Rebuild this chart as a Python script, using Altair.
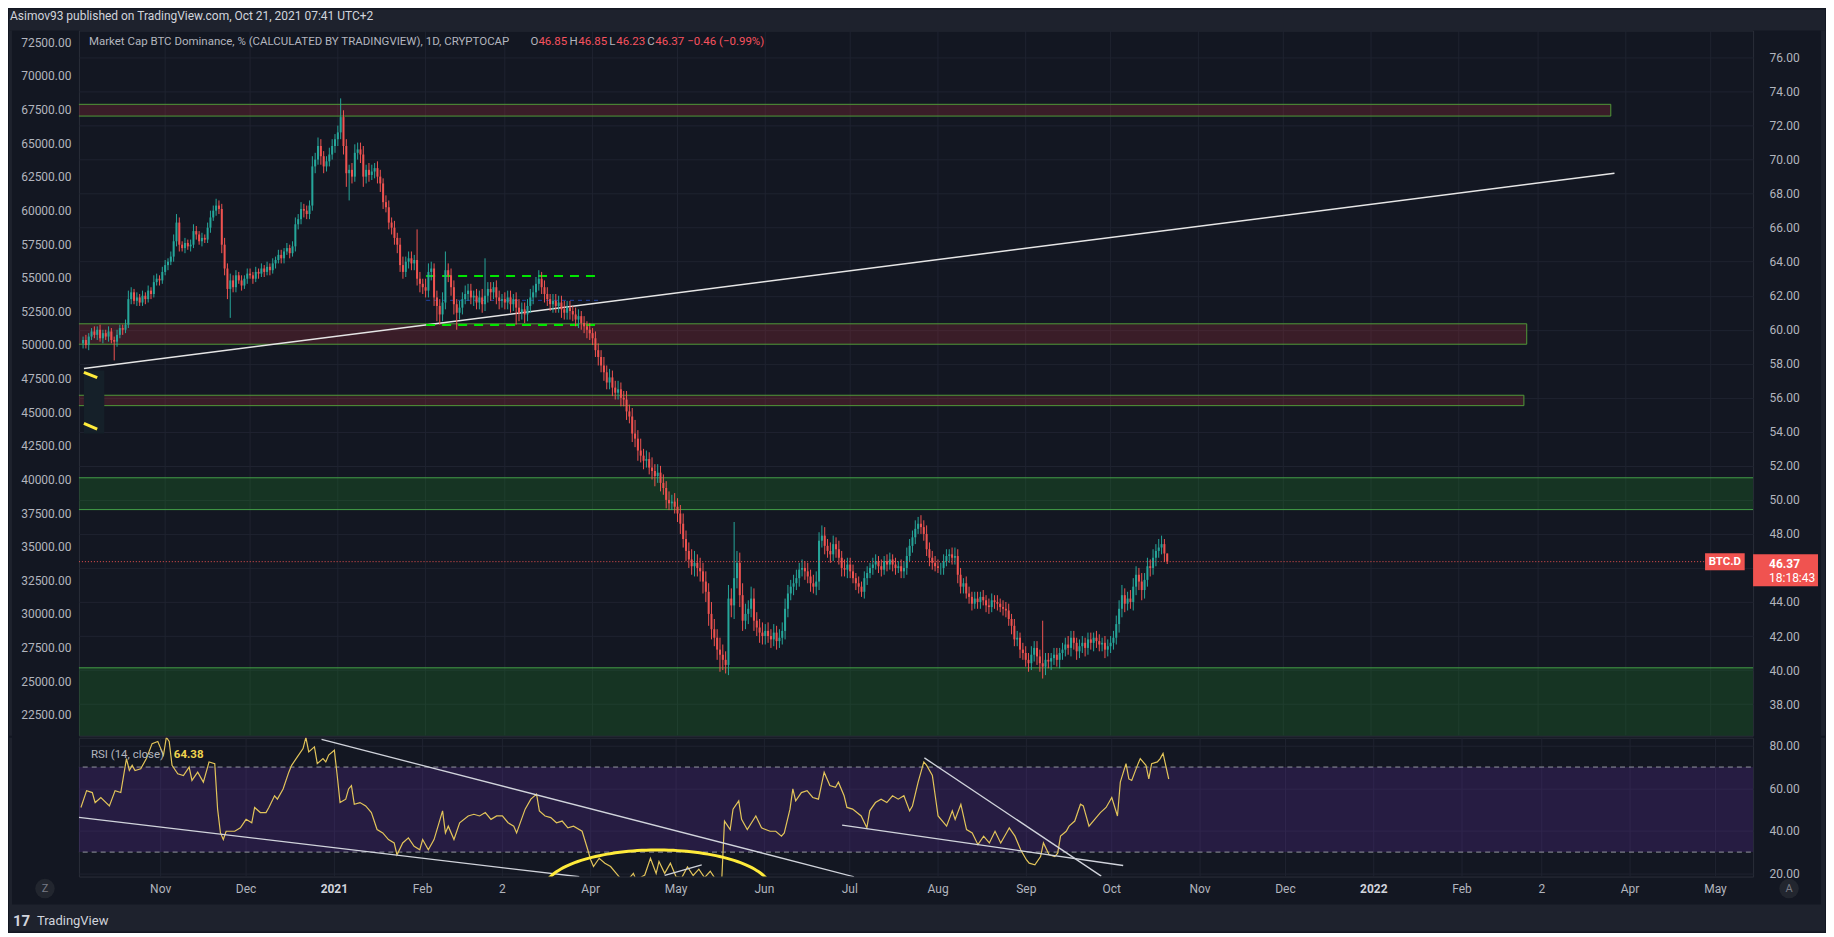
import altair as alt
import numpy as np
import pandas as pd

# ---------------- daily BTC.D candles ----------------
START = "2020-10-03"
FIRST_OPEN = 59.2

close_2020_10 = [59.4, 59.1, 59.6, 59.9, 59.7, 60.0, 59.5, 59.8, 59.6, 59.9, 59.4, 59.3, 59.7, 60.1, 60.0, 60.3, 61.8, 62.2, 61.7, 61.9, 61.6, 62.0, 61.8, 62.3, 62.1, 62.8, 63.0, 62.9, 63.4]
close_2020_11 = [63.8, 64.0, 64.3, 65.2, 66.3, 65.0, 64.8, 65.1, 64.9, 65.0, 65.8, 65.6, 65.2, 65.4, 65.3, 66.0, 66.6, 67.0, 67.3, 67.1, 65.0, 63.6, 62.4, 62.9, 62.5, 63.2, 62.9, 62.6, 63.0, 63.3]
close_2020_12 = [63.2, 63.0, 63.4, 63.3, 63.6, 63.4, 63.7, 63.5, 63.9, 64.1, 64.4, 64.2, 64.6, 64.8, 64.5, 64.9, 66.2, 66.5, 67.1, 67.0, 66.8, 67.3, 69.6, 70.0, 70.8, 70.2, 69.6, 69.9, 70.3, 70.8, 71.2]
close_2021_01 = [71.6, 72.5, 70.8, 69.2, 69.4, 69.0, 70.4, 70.6, 70.3, 69.0, 69.4, 69.1, 69.3, 69.5, 69.0, 68.6, 67.5, 67.2, 66.3, 66.0, 65.4, 65.0, 63.8, 63.4, 64.0, 64.2, 63.9, 64.1, 63.0, 62.7, 62.5]
close_2021_02 = [62.3, 63.4, 63.6, 61.9, 61.4, 60.9, 61.6, 63.5, 63.2, 62.5, 61.5, 61.0, 61.3, 61.8, 62.1, 62.3, 61.9, 62.0, 61.6, 61.9, 61.5, 62.0, 62.4, 62.2, 62.5, 61.9, 61.7, 61.8]
close_2021_03 = [61.6, 61.9, 61.5, 61.8, 61.3, 61.0, 61.2, 60.9, 61.4, 61.9, 62.2, 62.7, 63.0, 62.5, 62.1, 61.8, 61.5, 61.7, 61.4, 61.6, 61.2, 61.0, 61.3, 61.1, 60.9, 60.6, 60.8, 60.4, 60.2, 60.0, 59.8]
close_2021_04 = [59.5, 58.8, 58.4, 57.9, 57.5, 56.9, 57.2, 56.6, 56.3, 56.5, 56.0, 55.9, 55.2, 54.9, 53.9, 53.6, 52.9, 52.6, 52.3, 52.4, 51.9, 51.7, 51.4, 51.6, 51.0, 50.7, 50.0, 49.8, 49.9, 49.6]
close_2021_05 = [49.2, 48.6, 47.7, 47.0, 46.5, 46.1, 46.3, 46.0, 45.8, 45.2, 44.6, 43.3, 42.4, 41.9, 41.2, 40.9, 40.6, 40.3, 44.2, 43.8, 45.4, 46.3, 44.4, 42.9, 43.3, 43.6, 44.2, 42.9, 42.5, 42.2, 42.0]
close_2021_06 = [42.3, 42.0, 41.8, 42.2, 41.7, 41.9, 42.3, 43.6, 44.5, 44.9, 45.1, 45.4, 45.9, 46.0, 45.8, 45.5, 45.1, 44.9, 45.2, 47.6, 47.9, 47.3, 47.0, 46.8, 47.4, 47.1, 46.6, 46.0, 45.9, 46.2]
close_2021_07 = [45.8, 45.4, 45.1, 44.9, 44.6, 45.4, 45.7, 46.0, 46.2, 46.4, 46.1, 45.9, 46.4, 46.2, 46.5, 46.2, 46.0, 46.1, 45.8, 46.0, 46.7, 47.3, 47.8, 48.3, 48.6, 48.4, 48.0, 47.1, 46.6, 46.3, 46.1]
close_2021_08 = [46.0, 46.0, 46.4, 46.7, 46.8, 46.6, 46.7, 45.6, 44.9, 45.1, 44.5, 44.3, 43.9, 44.2, 44.0, 44.3, 44.1, 43.8, 43.7, 44.1, 44.0, 43.9, 43.7, 43.6, 43.5, 43.0, 42.6, 41.8, 41.9, 41.2, 41.0]
close_2021_09 = [40.6, 40.4, 40.9, 41.3, 40.8, 40.4, 40.2, 40.6, 40.5, 40.7, 40.9, 40.6, 41.0, 41.2, 41.5, 41.3, 41.9, 41.6, 41.1, 41.4, 41.6, 41.3, 41.8, 41.6, 41.9, 41.7, 41.5, 41.6, 41.2, 41.4]
close_2021_10 = [41.6, 41.9, 42.7, 43.6, 44.4, 43.9, 44.2, 44.0, 44.9, 45.6, 45.2, 44.7, 45.3, 46.1, 46.0, 46.6, 47.0, 47.2, 47.4, 46.85, 46.37]

# upper / lower wick length beyond the body, in tenths of a point
up_2020_10 = [2, 3, 2, 2, 3, 2, 3, 2, 2, 3, 2, 2, 3, 2, 2, 3, 5, 3, 2, 3, 2, 3, 2, 3, 2, 4, 3, 2, 3]
dn_2020_10 = [3, 2, 3, 2, 2, 3, 2, 3, 2, 3, 2, 11, 3, 2, 3, 2, 2, 3, 2, 3, 2, 2, 3, 2, 3, 2, 2, 3, 2]
up_2020_11 = [3, 2, 3, 4, 5, 3, 2, 3, 2, 3, 4, 3, 2, 3, 2, 3, 4, 3, 4, 3, 3, 4, 3, 4, 3, 3, 2, 3, 2, 3]
dn_2020_11 = [2, 3, 2, 3, 3, 4, 2, 3, 2, 3, 2, 3, 2, 3, 2, 2, 3, 2, 3, 3, 5, 4, 6, 17, 3, 3, 2, 3, 2, 3]
up_2020_12 = [3, 2, 3, 2, 3, 2, 3, 2, 3, 2, 3, 3, 2, 3, 2, 3, 4, 3, 4, 3, 3, 3, 6, 4, 5, 4, 3, 3, 4, 4, 3]
dn_2020_12 = [2, 3, 2, 3, 2, 3, 2, 3, 2, 3, 2, 3, 3, 2, 3, 2, 3, 3, 3, 4, 3, 3, 3, 4, 3, 5, 4, 3, 3, 3, 4]
up_2021_01 = [4, 11, 4, 4, 3, 4, 5, 4, 4, 5, 3, 4, 4, 3, 4, 4, 3, 4, 4, 3, 4, 3, 4, 5, 3, 4, 4, 3, 18, 4, 3]
dn_2021_01 = [4, 4, 5, 8, 16, 4, 3, 4, 5, 6, 4, 4, 3, 4, 4, 5, 4, 3, 4, 4, 4, 5, 4, 4, 3, 4, 4, 4, 4, 5, 4]
up_2021_02 = [5, 5, 4, 3, 4, 4, 6, 11, 4, 4, 4, 3, 4, 4, 5, 4, 4, 3, 4, 4, 5, 22, 4, 4, 3, 4, 4, 3]
dn_2021_02 = [4, 4, 5, 5, 9, 6, 4, 4, 4, 5, 6, 10, 4, 4, 3, 4, 4, 5, 4, 4, 5, 4, 4, 5, 4, 4, 5, 4]
up_2021_03 = [4, 4, 4, 3, 4, 5, 4, 4, 4, 5, 4, 4, 5, 4, 4, 4, 3, 4, 4, 4, 4, 5, 4, 4, 3, 4, 4, 3, 4, 3, 4]
dn_2021_03 = [4, 4, 5, 4, 10, 5, 4, 5, 4, 4, 4, 3, 4, 4, 5, 4, 4, 5, 4, 4, 5, 4, 4, 5, 4, 4, 5, 4, 4, 5, 4]
up_2021_04 = [3, 4, 4, 4, 5, 4, 5, 4, 4, 5, 4, 4, 5, 4, 5, 8, 5, 7, 4, 5, 4, 6, 4, 5, 4, 5, 4, 5, 4, 5]
dn_2021_04 = [4, 4, 5, 4, 5, 4, 4, 5, 4, 4, 5, 4, 5, 4, 5, 5, 6, 4, 5, 4, 4, 5, 6, 4, 5, 4, 5, 4, 4, 4]
up_2021_05 = [5, 5, 6, 5, 5, 6, 7, 5, 6, 5, 6, 5, 7, 6, 5, 7, 6, 5, 8, 6, 33, 7, 6, 7, 6, 5, 7, 6, 5, 5, 6]
dn_2021_05 = [5, 6, 5, 6, 5, 5, 6, 5, 6, 7, 6, 7, 6, 5, 6, 10, 6, 5, 6, 7, 8, 6, 7, 6, 5, 6, 5, 6, 5, 6, 5]
up_2021_06 = [4, 5, 4, 5, 4, 5, 5, 6, 5, 4, 5, 5, 4, 5, 4, 5, 4, 5, 6, 5, 6, 5, 4, 5, 5, 4, 5, 4, 5, 4]
dn_2021_06 = [5, 4, 5, 4, 5, 4, 4, 5, 5, 4, 5, 4, 5, 4, 5, 4, 5, 4, 5, 5, 4, 5, 4, 5, 4, 5, 4, 5, 4, 5]
up_2021_07 = [4, 4, 3, 4, 3, 4, 4, 3, 4, 4, 3, 4, 3, 4, 4, 3, 4, 3, 4, 4, 5, 4, 4, 5, 4, 5, 4, 5, 4, 4, 4]
dn_2021_07 = [4, 3, 4, 4, 3, 4, 4, 3, 4, 3, 4, 4, 3, 4, 3, 4, 4, 3, 4, 4, 4, 3, 4, 4, 3, 4, 4, 4, 5, 4, 3]
up_2021_08 = [4, 3, 4, 4, 3, 4, 5, 4, 4, 3, 4, 4, 3, 4, 4, 3, 4, 3, 4, 4, 3, 4, 3, 4, 4, 4, 3, 4, 4, 3, 4]
dn_2021_08 = [3, 4, 4, 3, 4, 4, 4, 5, 4, 4, 3, 4, 4, 3, 4, 4, 3, 4, 4, 3, 4, 4, 3, 4, 4, 4, 5, 4, 4, 5, 4]
up_2021_09 = [4, 4, 5, 4, 4, 4, 25, 4, 4, 3, 4, 4, 3, 4, 4, 5, 4, 4, 3, 4, 4, 3, 4, 4, 3, 4, 4, 3, 4, 4]
dn_2021_09 = [4, 5, 4, 4, 5, 5, 7, 5, 4, 5, 4, 4, 5, 4, 4, 4, 5, 4, 5, 4, 4, 5, 4, 4, 5, 4, 4, 4, 5, 4]
up_2021_10 = [4, 4, 5, 5, 6, 4, 4, 5, 5, 5, 4, 5, 4, 5, 4, 5, 4, 5, 5, 3, 0]
dn_2021_10 = [4, 4, 4, 5, 5, 5, 4, 4, 5, 5, 5, 6, 5, 4, 5, 4, 5, 4, 4, 5, 1.4]

# RSI(14, close): (days from 2020-11-01, value)
rsi_points = [(-28, 51.0), (-26, 58.9), (-24, 58.0), (-23, 53.3), (-21, 55.7), (-18, 51.7), (-16, 58.9), (-14, 58.0), (-12, 74.0), (-11, 68.4), (-10, 70.8), (-9, 68.4), (-7, 69.2), (-5, 74.0), (-3, 81.0), (-1, 82.0), (1, 75.6), (2, 84.0), (3, 82.0), (4, 70.8), (6, 66.8), (8, 66.0), (10, 70.0), (11, 63.7), (13, 67.6), (15, 62.9), (17, 72.4), (19, 71.6), (20, 50.2), (21, 39.0), (22, 35.9), (23, 39.8), (26, 39.8), (28, 41.4), (30, 45.4), (32, 43.8), (33, 51.0), (35, 48.6), (37, 48.6), (38, 51.0), (40, 56.5), (41, 54.9), (43, 59.7), (45, 67.6), (46, 70.8), (48, 74.8), (50, 78.7), (51, 84.0), (52, 77.1), (54, 79.5), (55, 71.6), (57, 74.0), (58, 72.4), (59, 75.6), (61, 77.9), (62, 66.0), (63, 53.3), (65, 54.9), (66, 59.7), (67, 61.3), (68, 52.5), (70, 53.3), (72, 51.7), (74, 48.6), (76, 40.6), (78, 39.0), (80, 35.9), (82, 34.3), (83, 28.7), (85, 34.3), (87, 36.7), (89, 32.7), (91, 31.1), (92, 35.9), (94, 31.1), (96, 35.9), (99, 49.4), (100, 39.0), (101, 42.2), (103, 35.9), (105, 43.8), (108, 47.0), (110, 47.8), (112, 47.0), (114, 48.6), (116, 45.4), (118, 47.0), (120, 47.0), (122, 43.8), (124, 42.2), (125, 39.0), (128, 50.2), (130, 54.9), (132, 57.3), (133, 49.4), (135, 47.0), (137, 46.2), (139, 43.8), (141, 44.6), (143, 41.4), (145, 42.2), (148, 39.8), (150, 31.1), (151, 26.4), (152, 23.2), (154, 27.1), (156, 24.8), (158, 23.2), (160, 20.0), (162, 16.8), (164, 16.8), (166, 20.0), (167, 16.8), (170, 19.2), (172, 27.1), (174, 20.0), (175, 25.6), (177, 20.0), (179, 24.8), (181, 18.4), (183, 18.0), (185, 23.0), (187, 19.0), (189, 22.0), (191, 18.0), (193, 21.0), (195, 17.0), (197, 16.0), (198, 44.6), (200, 40.6), (201, 50.2), (203, 54.1), (204, 45.4), (206, 40.6), (209, 47.0), (211, 41.4), (214, 39.8), (216, 39.8), (218, 37.5), (219, 39.0), (221, 50.2), (222, 59.7), (223, 54.1), (225, 58.0), (227, 58.9), (229, 55.7), (231, 54.9), (232, 61.3), (233, 67.6), (235, 61.3), (237, 60.5), (238, 62.9), (240, 56.5), (241, 51.0), (243, 50.2), (246, 47.0), (248, 41.4), (249, 49.4), (251, 53.3), (253, 54.9), (255, 53.3), (257, 56.5), (259, 54.9), (261, 56.5), (263, 49.4), (264, 51.7), (266, 62.9), (268, 72.4), (269, 70.8), (271, 66.0), (272, 56.5), (273, 47.0), (276, 42.2), (278, 49.4), (279, 45.4), (281, 52.5), (283, 40.6), (285, 39.0), (287, 33.5), (289, 37.5), (291, 34.3), (293, 39.8), (295, 34.3), (297, 39.0), (298, 41.4), (300, 37.5), (302, 31.1), (304, 26.4), (305, 24.8), (307, 24.0), (309, 27.9), (310, 34.3), (312, 28.7), (314, 27.9), (315, 29.5), (316, 37.5), (318, 39.8), (319, 42.2), (321, 44.6), (323, 52.5), (324, 51.7), (326, 42.2), (328, 45.4), (330, 48.6), (332, 51.0), (334, 55.7), (336, 47.0), (337, 62.9), (339, 71.6), (340, 64.4), (341, 63.7), (343, 70.8), (344, 74.0), (346, 70.8), (347, 64.4), (348, 71.6), (350, 72.4), (351, 74.0), (352, 76.4), (354, 64.38)]

# drawn zones (days from 2020-11-01, BTC.D values)
zone_top = [73.25, 60.35, 56.15, 51.30, 40.13]
zone_bottom = [72.56, 59.15, 55.54, 49.43, 30.0]
zone_from = [-40, -40, -40, -40, -40]
zone_to = [510.7, 481.0, 480.0, 600.0, 600.0]
zone_fill = ["#d63540", "#d63540", "#d63540", "#22a827", "#22a827"]
zone_stroke = ["#4f9a38", "#4f9a38", "#4f9a38", "#43a047", "#43a047"]

# drawn lines: (day1, value1, day2, value2)
main_trend = [(-28.7, 57.72, 512.0, 69.2)]
green_dashed = [(92.2, 63.16, 153.2, 63.16), (92.2, 60.28, 153.2, 60.28)]
blue_dashed = [(92.2, 61.73, 153.2, 61.73)]
yellow_marks = [(-28.7, 57.50, -24.0, 57.18), (-28.7, 54.50, -24.0, 54.16)]
rsi_trends = [(56.5, 83.0, 243.5, 18.4), (-28.7, 46.3, 147.0, 18.4), (177.0, 19.0, 190.0, 24.0),
              (239.3, 42.7, 338.0, 23.7), (268.2, 74.3, 330.3, 18.7)]
ellipse_center = (174.5, 12.0)
ellipse_radii = (40.0, 19.0)

LAST_PRICE = 46.37

month_ticks = ["2020-11-01", "2020-12-01", "2021-01-01", "2021-02-01", "2021-03-01", "2021-04-01",
               "2021-05-01", "2021-06-01", "2021-07-01", "2021-08-01", "2021-09-01", "2021-10-01",
               "2021-11-01", "2021-12-01", "2022-01-01", "2022-02-01", "2022-03-01", "2022-04-01", "2022-05-01"]
month_labels = ["Nov", "Dec", "2021", "Feb", "2", "Apr", "May", "Jun", "Jul", "Aug", "Sep", "Oct",
                "Nov", "Dec", "2022", "Feb", "2", "Apr", "May"]
left_ticks = [22500, 25000, 27500, 30000, 32500, 35000, 37500, 40000, 42500, 45000, 47500, 50000,
              52500, 55000, 57500, 60000, 62500, 65000, 67500, 70000, 72500]
right_ticks = [38, 40, 42, 44, 46, 48, 50, 52, 54, 56, 58, 60, 62, 64, 66, 68, 70, 72, 74, 76]
rsi_ticks = [20, 40, 60, 80]

# ---------------- build tables ----------------
BASE = pd.Timestamp("2020-11-01", tz="UTC")


def ms(day):
    return int((BASE + pd.Timedelta(days=float(day))).value // 10**6)


closes = (close_2020_10 + close_2020_11 + close_2020_12 + close_2021_01 + close_2021_02 + close_2021_03 +
          close_2021_04 + close_2021_05 + close_2021_06 + close_2021_07 + close_2021_08 + close_2021_09 + close_2021_10)
ups = (up_2020_10 + up_2020_11 + up_2020_12 + up_2021_01 + up_2021_02 + up_2021_03 + up_2021_04 +
       up_2021_05 + up_2021_06 + up_2021_07 + up_2021_08 + up_2021_09 + up_2021_10)
downs = (dn_2020_10 + dn_2020_11 + dn_2020_12 + dn_2021_01 + dn_2021_02 + dn_2021_03 + dn_2021_04 +
         dn_2021_05 + dn_2021_06 + dn_2021_07 + dn_2021_08 + dn_2021_09 + dn_2021_10)
opens = [FIRST_OPEN] + closes[:-1]
dates = pd.date_range(START, periods=len(closes), freq="D", tz="UTC")
candles = pd.DataFrame({
    "t": dates.asi8 // 10**6,
    "open": opens,
    "close": closes,
    "high": [max(o, c) + u / 10 for o, c, u in zip(opens, closes, ups)],
    "low": [min(o, c) - d / 10 for o, c, d in zip(opens, closes, downs)],
    "dir": ["up" if c >= o else "down" for o, c in zip(opens, closes)],
})

rsi_df = pd.DataFrame({"t": [ms(d) for d, _ in rsi_points], "v": [v for _, v in rsi_points]})


def seg_df(segs):
    return pd.DataFrame({"t1": [ms(s[0]) for s in segs], "v1": [s[1] for s in segs],
                         "t2": [ms(s[2]) for s in segs], "v2": [s[3] for s in segs]})


ang = np.linspace(0, np.pi, 80)
ell_df = pd.DataFrame({"t": [ms(ellipse_center[0] + ellipse_radii[0] * np.cos(a)) for a in ang],
                       "v": ellipse_center[1] + ellipse_radii[1] * np.sin(ang),
                       "i": np.arange(len(ang))})

zones = pd.DataFrame({"t1": [ms(d) for d in zone_from], "t2": [ms(d) for d in zone_to],
                      "top": zone_top, "bot": zone_bottom, "fill": zone_fill, "stroke": zone_stroke})

month_ms = [int(pd.Timestamp(d, tz="UTC").value // 10**6) for d in month_ticks]
months_df = pd.DataFrame({"t": month_ms, "lab": month_labels,
                          "year": [len(l) == 4 for l in month_labels]})

# ---------------- styling ----------------
W, HM, HR = 1676, 706, 139
BG = "#131722"
OUTER = "#1e222d"
GRID = "#1f2330"
BORDER = "#2a2e39"
UP = "#26a69a"
DOWN = "#ef5350"
TXT = "#b2b5be"
RSI_COL = "#e2c45a"
FONT = "Roboto"

xs = alt.Scale(type="utc", domain=[ms(-28.7), ms(559.2)], nice=False)
yD = alt.Scale(domain=[36.14, 77.59], nice=False, zero=False)
yL = alt.Scale(domain=[20939, 73385], nice=False, zero=False)
yR = alt.Scale(domain=[18.5, 83.8], nice=False, zero=False)
one = pd.DataFrame({"k": [0]})
dir_color = alt.Color("dir:N", scale=alt.Scale(domain=["up", "down"], range=[UP, DOWN]), legend=None)


def px_rect(x1, x2, y1, y2, color):
    return alt.Chart(one).mark_rect(color=color).encode(
        x=alt.value(x1), x2=alt.value(x2), y=alt.value(y1), y2=alt.value(y2))


def px_text(s, x, y, color, size=12, weight="normal", align="left"):
    return alt.Chart(pd.DataFrame({"s": [s]})).mark_text(
        align=align, baseline="middle", color=color, fontSize=size, fontWeight=weight, font=FONT
    ).encode(text="s:N", x=alt.value(x), y=alt.value(y))


def seg_layer(segs, yscale, color, width, dash=None, opacity=1.0):
    kw = dict(color=color, strokeWidth=width, clip=True, opacity=opacity)
    if dash:
        kw["strokeDash"] = dash
    return alt.Chart(seg_df(segs)).mark_rule(**kw).encode(
        x=alt.X("t1:T", scale=xs, axis=None), x2="t2:T",
        y=alt.Y("v1:Q", scale=yD if yscale == "D" else yR, axis=None), y2="v2:Q")


def value_text(s, v, weight):
    return alt.Chart(pd.DataFrame({"v": [v], "s": [s]})).mark_text(
        color="white", fontSize=12, font=FONT, align="left", baseline="middle", fontWeight=weight).encode(
        x=alt.value(W + 16), y=alt.Y("v:Q", scale=yD, axis=None), text="s:N")


def month_grid(h):
    return alt.Chart(months_df).mark_rule(color=GRID, strokeWidth=1).encode(
        x=alt.X("t:T", scale=xs, axis=None), y=alt.value(0), y2=alt.value(h))


# ---------------- main price pane ----------------
zone_layer = alt.Chart(zones).mark_rect(clip=True, strokeWidth=1, fillOpacity=0.2).encode(
    x=alt.X("t1:T", scale=xs, axis=None), x2="t2:T",
    y=alt.Y("top:Q", scale=yD, axis=None), y2="bot:Q",
    fill=alt.Fill("fill:N", scale=None), stroke=alt.Stroke("stroke:N", scale=None))

faint_box = alt.Chart(pd.DataFrame({"t1": [ms(-28.7)], "t2": [ms(-21.5)], "a": [57.6], "b": [53.9]})).mark_rect(
    color="#152029", clip=True).encode(
    x=alt.X("t1:T", scale=xs, axis=None), x2="t2:T", y=alt.Y("a:Q", scale=yD, axis=None), y2="b:Q")

wicks = alt.Chart(candles).mark_rule(strokeWidth=1).encode(
    x=alt.X("t:T", scale=xs, axis=None),
    y=alt.Y("low:Q", scale=yD, axis=alt.Axis(orient="right", values=right_ticks,
                                             labelExpr="datum.value == 46 ? '' : format(datum.value, '.2f')",
                                             grid=True, gridColor=GRID, ticks=False, tickSize=0, domain=False,
                                             labelPadding=16, title=None, labelFlush=False, labelOverlap=False)),
    y2="high:Q", color=dir_color)

bodies = alt.Chart(candles).mark_bar(width=2).encode(
    x=alt.X("t:T", scale=xs, axis=None),
    y=alt.Y("open:Q", scale=yD, axis=None), y2="close:Q", color=dir_color)

left_axis = alt.Chart(pd.DataFrame({"L": left_ticks})).mark_point(opacity=0).encode(
    y=alt.Y("L:Q", scale=yL, axis=alt.Axis(orient="left", values=left_ticks, format=".2f", grid=False, ticks=False,
                                           tickSize=0, domain=False, labelPadding=8, title=None, labelFlush=False,
                                           labelOverlap=False)))

price_line = alt.Chart(pd.DataFrame({"t1": [ms(-40)], "t2": [ms(544)], "v": [LAST_PRICE]})).mark_rule(
    color=DOWN, strokeDash=[1, 2], strokeWidth=1, clip=True).encode(
    x=alt.X("t1:T", scale=xs, axis=None), x2="t2:T", y=alt.Y("v:Q", scale=yD, axis=None))

sym_box = alt.Chart(pd.DataFrame({"t1": [ms(544)], "t2": [ms(558)], "a": [LAST_PRICE + 0.5],
                                  "b": [LAST_PRICE - 0.5]})).mark_rect(color="#f05350").encode(
    x=alt.X("t1:T", scale=xs, axis=None), x2="t2:T", y=alt.Y("a:Q", scale=yD, axis=None), y2="b:Q")
sym_text = alt.Chart(pd.DataFrame({"t": [ms(551)], "v": [LAST_PRICE], "s": ["BTC.D"]})).mark_text(
    color="white", fontSize=11.5, fontWeight="bold", font=FONT, baseline="middle").encode(
    x=alt.X("t:T", scale=xs, axis=None), y=alt.Y("v:Q", scale=yD, axis=None), text="s:N")

axis_box = alt.Chart(pd.DataFrame({"a": [LAST_PRICE + 0.44], "b": [LAST_PRICE - 1.44]})).mark_rect(
    color="#f05350").encode(x=alt.value(W), x2=alt.value(W + 65),
                            y=alt.Y("a:Q", scale=yD, axis=None), y2="b:Q")

RED_T = "#f7525f"
main = alt.layer(
    px_rect(-70, W + 72, -21, 0, OUTER),
    px_rect(-70, -67, 0, HM, OUTER),
    px_rect(W + 68, W + 72, 0, HM, OUTER),
    month_grid(HM),
    zone_layer,
    faint_box,
    seg_layer(main_trend, "D", "#e6e6e6", 1.5),
    seg_layer(blue_dashed, "D", "#2962ff", 1, dash=[4, 4], opacity=0.6),
    seg_layer(green_dashed, "D", "#00e600", 2, dash=[9, 7]),
    seg_layer(yellow_marks, "D", "#ffeb3b", 3),
    wicks,
    bodies,
    price_line,
    sym_box, sym_text,
    axis_box,
    value_text("46.37", LAST_PRICE - 0.12, "bold"),
    value_text("18:18:43", LAST_PRICE - 0.95, "normal"),
    left_axis,
    px_text("Asimov93 published on TradingView.com, Oct 21, 2021 07:41 UTC+2", -69, -14, "#d1d4dc", 12),
    px_text("Market Cap BTC Dominance, % (CALCULATED BY TRADINGVIEW), 1D, CRYPTOCAP", 10, 12, TXT, 11.5),
    px_text("O", 452, 12, TXT, 11.5), px_text("46.85", 460, 12, RED_T, 11.5),
    px_text("H", 491, 12, TXT, 11.5), px_text("46.85", 500, 12, RED_T, 11.5),
    px_text("L", 531, 12, TXT, 11.5), px_text("46.23", 538, 12, RED_T, 11.5),
    px_text("C", 569, 12, TXT, 11.5), px_text("46.37", 577, 12, RED_T, 11.5),
    px_text("\u22120.46 (\u22120.99%)", 609, 12, RED_T, 11.5),
).resolve_scale(y="independent").properties(width=W, height=HM)

# ---------------- RSI pane ----------------
band = alt.Chart(pd.DataFrame({"t1": [ms(-40)], "t2": [ms(600)], "a": [30], "b": [70]})).mark_rect(
    color="#7230c2", opacity=0.2, clip=True).encode(
    x=alt.X("t1:T", scale=xs, axis=None), x2="t2:T", y=alt.Y("a:Q", scale=yR, axis=None), y2="b:Q")

levels = alt.Chart(pd.DataFrame({"t1": [ms(-40), ms(-40)], "t2": [ms(600), ms(600)], "v": [70, 30]})).mark_rule(
    color="#9598a1", strokeDash=[5, 4], strokeWidth=1, clip=True).encode(
    x=alt.X("t1:T", scale=xs, axis=None), x2="t2:T", y=alt.Y("v:Q", scale=yR, axis=None))

rsi_line = alt.Chart(rsi_df).mark_line(color=RSI_COL, strokeWidth=1.2, clip=True).encode(
    x=alt.X("t:T", scale=xs, axis=None),
    y=alt.Y("v:Q", scale=yR, axis=alt.Axis(
        orient="right", values=rsi_ticks, format=".2f", grid=True, gridColor=GRID, ticks=False, tickSize=0,
        domain=False, labelPadding=16, title=None, labelFlush=False, labelOverlap=False)))

ellipse = alt.Chart(ell_df).mark_line(color="#ffeb3b", strokeWidth=3, clip=True).encode(
    x=alt.X("t:T", scale=xs, axis=None), y=alt.Y("v:Q", scale=yR, axis=None), order="i:Q")

time_labels = alt.Chart(months_df).transform_filter("!datum.year").mark_text(
    color=TXT, fontSize=12, font=FONT, baseline="middle", align="center").encode(
    x=alt.X("t:T", scale=xs, axis=None), y=alt.value(HR + 12), text="lab:N")
year_labels = alt.Chart(months_df).transform_filter("datum.year").mark_text(
    color="#d1d4dc", fontSize=12, font=FONT, fontWeight="bold", baseline="middle", align="center").encode(
    x=alt.X("t:T", scale=xs, axis=None), y=alt.value(HR + 12), text="lab:N")

rsi = alt.layer(
    px_rect(-70, -67, 0, 194, OUTER),
    px_rect(W + 68, W + 72, 0, 194, OUTER),
    px_rect(-70, W + 72, 167, 194, OUTER),
    month_grid(HR),
    band,
    levels,
    rsi_line,
    seg_layer(rsi_trends, "R", "#d1d4dc", 1.3),
    ellipse,
    time_labels,
    year_labels,
    alt.Chart(one).mark_point(filled=True, shape="circle", size=380, color="#22262f", opacity=1).encode(
        x=alt.value(-34), y=alt.value(151)),
    alt.Chart(one).mark_point(filled=True, shape="circle", size=380, color="#22262f", opacity=1).encode(
        x=alt.value(W + 36), y=alt.value(151)),
    px_text("Z", -34, 151, "#787b86", 11, align="center"),
    px_text("A", W + 36, 151, "#787b86", 11, align="center"),
    px_text("RSI (14, close)", 12, 17, TXT, 11.5),
    px_text("64.38", 95, 17, "#f0d44e", 11.5, "bold"),
    px_text("17", -66, 184, "#d1d4dc", 15, "bold"),
    px_text("TradingView", -42, 184, "#d1d4dc", 13),
).resolve_scale(y="independent").properties(width=W, height=HR)

chart = alt.vconcat(main, rsi, spacing=0).properties(
    padding={"left": 0, "top": 0, "right": 0, "bottom": 0}
).configure(background=BG, font=FONT).configure_view(
    stroke=BORDER, fill=BG
).configure_axis(
    labelFont=FONT, labelFontSize=12, labelColor=TXT
)

chart.save("out.html", embed_options={"renderer": "svg", "actions": False})
